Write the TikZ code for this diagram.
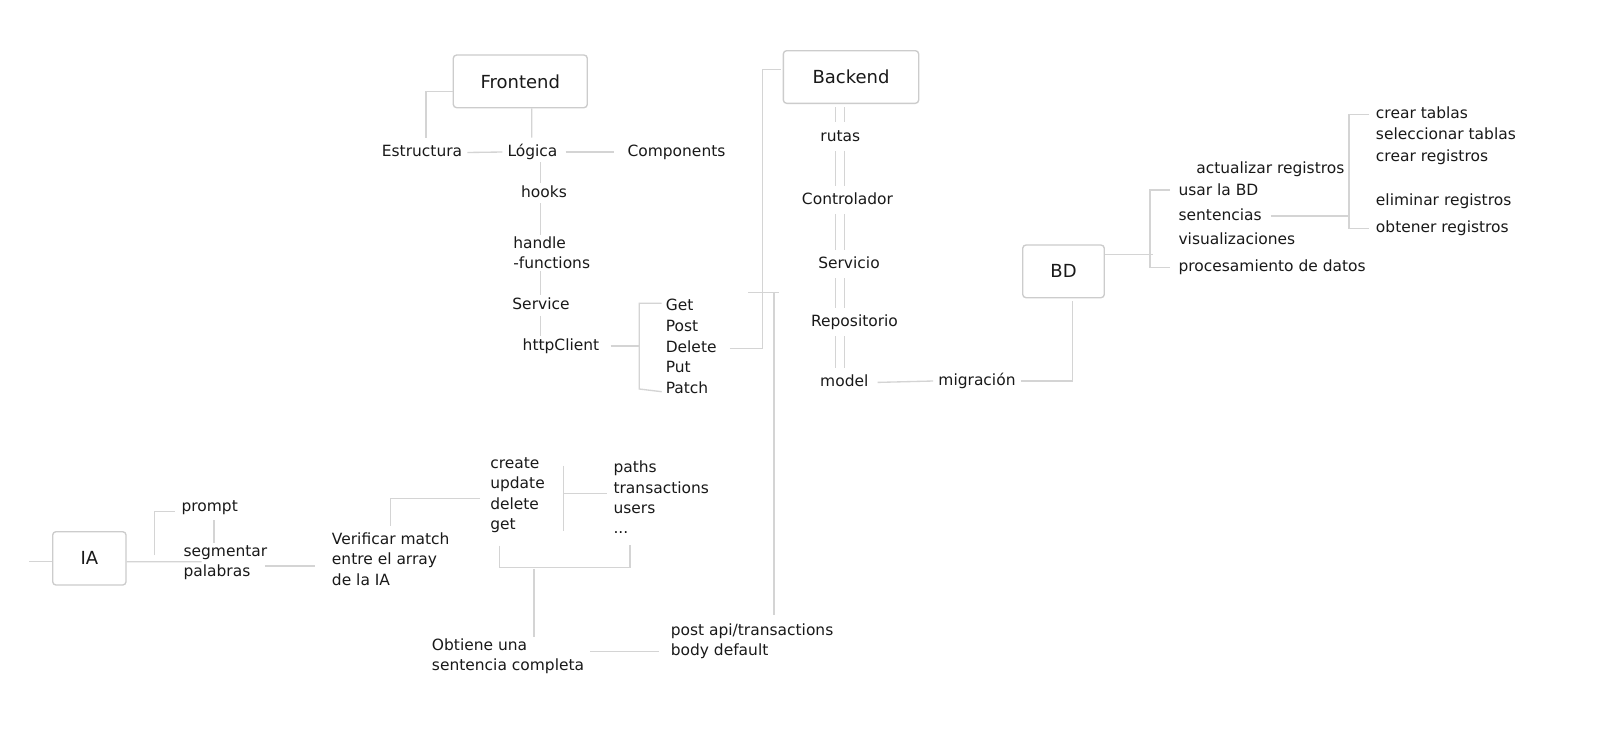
\documentclass[tikz,border=0pt]{standalone}
\usepackage{fontspec}
\setmainfont{DejaVu Sans}
\usetikzlibrary{calc}
\begin{document}
\begin{tikzpicture}[x=0.75pt, y=-0.75pt,
    caja/.style={draw=grisc, rounded corners=2.5pt, line width=1pt, text=tinta, font=\fontsize{13.5pt}{16pt}\selectfont},
    txt/.style={inner xsep=3.75pt, inner ysep=1.5pt, text height=9pt, text depth=3pt, text=tinta, font=\fontsize{11.6pt}{15.3pt}\selectfont},
    bloque/.style={inner xsep=3.75pt, inner ysep=1.5pt, align=left, anchor=west, text=tinta, font=\fontsize{11.6pt}{15.3pt}\selectfont},
    linea/.style={draw=gris, line width=1pt},
    doble/.style={double=white, double distance=5.5pt, shorten <=2.5pt, shorten >=3.5pt}]
    %colores
    \colorlet{gris}{gray!34}
    \colorlet{grisc}{gray!40}
    \colorlet{tinta}{black!90}

    % Fondo
    \fill[white] (0,0) rectangle (1597,736);

    % Cajas
    \node[caja, minimum width=100.5pt, minimum height=39.5pt] (front) at (520.3,81.35) {Frontend};
    \node[caja, minimum width=101.5pt, minimum height=39.5pt] (back) at (851,77) {Backend};
    \node[caja, minimum width=61.2pt, minimum height=39.5pt] (bd) at (1063.5,271.35) {BD};
    \node[caja, minimum width=55pt, minimum height=40pt] (ia) at (89.35,558.35) {IA};

    % Frontend
    \node[txt] (est) at (422,152.5) {Estructura};
    \node[txt] (log) at (532.5,152) {Lógica};
    \node[txt] (comp) at (676.5,152) {Components};
    \node[txt] (hooks) at (544,193) {hooks};
    \node[bloque] (handle) at (508,253) {handle\\-functions};
    \node[txt] (serv) at (541,305.7) {Service};
    \node[txt] (http) at (561,346) {httpClient};
    \foreach \y/\nombre/\texto in {306.7/mget/Get, 327.7/mpost/Post, 348.3/mdelete/Delete, 368.7/mput/Put, 389/mpatch/Patch}
        \node[txt, anchor=west] (\nombre) at (660.5,\y) {\texto};

    % Backend
    \node[txt] (rutas) at (840.3,137) {rutas};
    \node[txt] (ctrl) at (847.5,200.7) {Controlador};
    \node[txt] (servi) at (849,264.7) {Servicio};
    \node[txt] (repo) at (854.5,322.7) {Repositorio};
    \node[txt] (model) at (844.3,382.5) {model};
    \node[txt] (migr) at (977,381) {migración};

    % BD
    \node[txt, anchor=west] (act) at (1191,169.3) {actualizar registros};
    \foreach \y/\nombre/\texto in {191.7/usar/usar la BD, 216/sent/sentencias, 240.7/vis/visualizaciones, 267.7/proc/procesamiento de datos}
        \node[txt, anchor=west] (\nombre) at (1173.3,\y) {\texto};
    \foreach \y/\nombre/\texto in {114.3/ctab/crear tablas, 135.7/stab/seleccionar tablas, 157.7/creg/crear registros, 201.7/ereg/eliminar registros, 228.3/oreg/obtener registros}
        \node[txt, anchor=west] (\nombre) at (1370.7,\y) {\texto};

    % IA
    \node[txt] (prompt) at (209.7,507.3) {prompt};
    \node[bloque] (seg) at (178.3,562.5) {segmentar\\palabras};
    \node[bloque] (verif) at (326.7,559.2) {Verificar match\\entre el array\\de la IA};
    \node[bloque] (ops) at (485,495) {create\\update\\delete\\get};
    \node[bloque] (ents) at (608.3,497.4) {paths\\transactions\\users\\...};
    \node[bloque] (obt) at (426.7,656.5) {Obtiene una\\sentencia completa};
    \node[bloque] (post) at (665.5,641) {post api/transactions\\body default};

    % Ejes y llaves
    \coordinate (eje) at (540.7,0);
    \coordinate (ejeb) at (840,0);
    \coordinate (ejep) at (214,0);
    \coordinate (llave) at (639.3,0);
    \coordinate (llavebd) at (1150,0);
    \coordinate (llaveder) at (1349,0);
    \coordinate (cruce) at (774,292.5);
    \coordinate (iaizq) at (29.3,561.7);

    % Lineas frontend
    \draw[linea] ($(front.west)+(0,10.3)$) -| ($(est.north)+(4,-4.5)$);
    \draw[linea] ($(front.south)+(11.4,0)$) -- ($(log.north)+(-0.8,-4)$);
    \draw[linea] (est.east) -- (log.west);
    \draw[linea, shorten <=2.25pt, shorten >=6pt] (log.east) -- (comp.west);
    \foreach \a/\b in {log/hooks, hooks/handle, handle/serv, serv/http}
        \draw[linea] (\a.south -| eje) -- (\b.north -| eje);
    \draw[linea, shorten <=4.5pt] (http.east) -- (http.east -| llave);
    \draw[linea] ($(mget.west)+(1.2,-3.4)$) -| (llave |- mpatch.west) -- ($(mpatch.west)+(1.2,2.7)$);
    \draw[linea, shorten <=6pt] (mdelete.east) -| ($(back.west)+(-20,-7.7)$) -- ($(back.west)+(-1.6,-7.7)$);
    \draw[linea] ($(cruce)+(-25.7,0)$) -- ($(cruce)+(5.3,0)$);
    \draw[linea, shorten >=4.5pt] (cruce) -- (cruce |- post.north);

    % Lineas backend
    \foreach \a/\b in {back/rutas, rutas/ctrl, ctrl/servi, servi/repo, repo/model}
        \draw[linea, doble] (\a.south -| ejeb) -- (\b.north -| ejeb);
    \draw[linea, shorten <=3pt] (model.east) -- (migr.west);
    \draw[linea] (migr.east) -| ($(bd.south)+(8.8,2.3)$);

    % Lineas BD
    \draw[linea] ($(bd.east)+(0,-17)$) -- ($(llavebd |- bd.east)+(2.7,-17)$);
    \draw[linea] ($(usar.west)+(-3.3,-1.7)$) -| (llavebd |- proc.west) -- ($(proc.west)+(-3.3,0)$);
    \draw[linea, shorten <=3pt] (sent.east) -- (sent.east -| llaveder);
    \draw[linea] ($(ctab.west)+(-1.4,0)$) -| (llaveder |- oreg.west) -- ($(oreg.west)+(-1.4,0)$);

    % Lineas IA
    \draw[linea] (iaizq) -- (iaizq -| ia.west);
    \draw[linea] ($(ia.east)+(0,3.4)$) -- ($(seg.west)+(23.4,-0.8)$);
    \draw[linea] ($(ia.east)+(28,-3.3)$) |- ($(prompt.west)+(-1.6,4.4)$);
    \draw[linea] ($(prompt.south -| ejep)+(0,2.7)$) -- (seg.north -| ejep);
    \draw[linea] ($(seg.east)+(-7.7,3.5)$) -- ($(verif.west |- seg.east)+(-11.7,3.5)$);
    \draw[linea, shorten <=3.75pt] (verif.north) |- ($(ops.west)+(-5,3.3)$);
    \draw[linea] ($(ops.north east)+(13.7,10.8)$) -- ($(ops.south east)+(13.7,-4.2)$);
    \draw[linea] ($(ops.east)+(13.7,-1.7)$) -- ($(ents.west |- ops.east)+(-1.6,-1.7)$);
    \draw[linea] ($(ops.south west)+(14.3,10.8)$) |- ($(ents.south west)+(21.7,31.5)$) -- ($(ents.south west)+(21.7,8.8)$);
    \coordinate (lm) at ($(ops.south west)+(49,34)$);
    \draw[linea] (lm) -- (lm |- obt.north);
    \coordinate (oe) at ($(obt.east)+(0.7,-4.8)$);
    \draw[linea] (oe) -- ($(post.west |- oe)+(-7,0)$);
\end{tikzpicture}
\end{document}
